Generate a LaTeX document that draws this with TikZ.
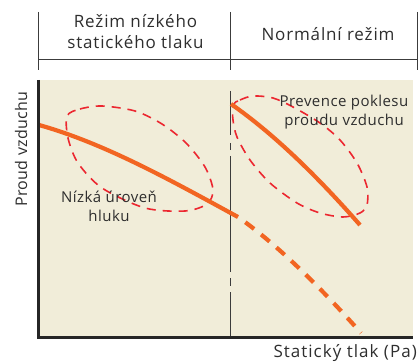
\documentclass[tikz,border=0pt]{standalone}
\usepackage{fontspec}
\setmainfont{Open Sans}
\newfontfamily\hdrfont[LetterSpace=5]{Open Sans}
\newfontfamily\lblfont[LetterSpace=3]{Open Sans}
\newfontfamily\axfont[LetterSpace=6]{Open Sans}
\newfontfamily\ayfont[LetterSpace=2]{Open Sans}
\definecolor{textc}{HTML}{2E2E2E}
\definecolor{rulec}{HTML}{3C3C3C}
\definecolor{axisc}{HTML}{262626}
\definecolor{beige}{HTML}{F1EDD9}
\definecolor{flowc}{HTML}{F26522}
\definecolor{zonec}{HTML}{EC2730}
\begin{document}
\begin{tikzpicture}[x=1pt,y=-1pt,
  hdr/.style={font=\hdrfont\fontsize{17}{21}\selectfont, text=textc, align=center, inner sep=0pt},
  lbl/.style={font=\lblfont\fontsize{15}{19}\selectfont, text=textc, align=center, inner sep=0pt},
  rule/.style={draw=rulec, line width=1pt},
  axisline/.style={draw=axisc, line width=2.2pt},
  divider/.style={draw=rulec, line width=1.2pt},
  flow/.style={draw=flowc, line width=4.2pt},
  zone/.style={draw=zonec, line width=1.6pt, dash pattern=on 9pt off 7pt}]
\useasboundingbox (0,0) rectangle (419,363);
% header
\draw[rule] (38.5,12) -- (38.5,70);
\draw[rule] (230.5,12) -- (230.5,70);
\draw[rule] (417.5,12) -- (417.5,70);
\draw[rule] (38.5,60) -- (417.5,60);
\node[hdr] (h1) at (135.5,31.5) {Režim nízkého\\statického tlaku};
\node[hdr] (h2) at (328,34) {Normální režim};
% plot area
\fill[beige] (38.5,80) rectangle (413,337);
\draw[divider, dash pattern=on 44pt off 8pt on 7pt off 6pt on 116pt off 6pt on 8pt off 6pt on 60pt] (230.5,91) -- (230.5,337);
% zones
\draw[zone] plot[smooth cycle] coordinates {(67,116) (80,109) (102,106) (135,111) (162,124) (186,143) (205,167) (213,190) (207,204) (185,211) (145,208) (102,188) (78,163) (68,138)};
\draw[zone] plot[smooth cycle] coordinates {(233,105) (240,100) (253,96) (273,98) (293,107) (320,123) (340,140) (357,163) (367,187) (367,205) (360,213) (343,217) (320,213) (297,203) (270,183) (250,160) (237,137) (233,120)};
% curves
\coordinate (a0) at (39,125);
\coordinate (a1) at (238,217);
\coordinate (a2) at (361,333);
\coordinate (b0) at (231,104);
\coordinate (b1) at (360,225);
\draw[flow] (a0) .. controls (105,143.5) and (172,181) .. (a1);
\draw[flow, dash pattern=on 11pt off 9pt, dash phase=11pt] (a1) .. controls (278,245) and (322,289) .. (a2);
\draw[flow] (b0) .. controls (274,134) and (317,176) .. (b1);
% axes
\draw[axisline] (38.5,80) -- (38.5,337.5) -- (413,337.5);
% labels
\node[font=\ayfont\fontsize{16}{19}\selectfont, text=textc, inner sep=0pt, rotate=90] (yl) at (21,149) {Proud vzduchu};
\node[font=\axfont\fontsize{17}{20}\selectfont, text=textc, inner sep=0pt, anchor=east] (xl) at (417,353) {Statický tlak (Pa)};
\node[lbl] (n1) at (109,206) {Nízká úroveň\\hluku};
\node[lbl] (n2) at (344,112.5) {Prevence poklesu\\proudu vzduchu};
\end{tikzpicture}
\end{document}
